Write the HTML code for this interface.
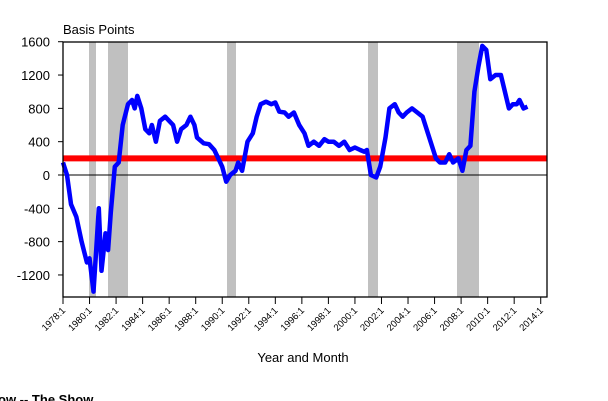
<!DOCTYPE html>
<html><head><meta charset="utf-8"><style>
html,body{margin:0;padding:0;background:#fff;width:608px;height:401px;overflow:hidden}
svg{display:block;font-family:"Liberation Sans",Arial,sans-serif}
</style></head><body>
<svg id="s" width="608" height="401" viewBox="0 0 608 401">
<g fill="#c0c0c0">
<rect x="89" y="42" width="7" height="255"/>
<rect x="108" y="42" width="20" height="255"/>
<rect x="227" y="42" width="9" height="255"/>
<rect x="368" y="42" width="10" height="255"/>
<rect x="457" y="42" width="22" height="255"/>
</g>
<line x1="63" y1="175" x2="547" y2="175" stroke="#000" stroke-width="1"/>
<line x1="63" y1="158.4" x2="547" y2="158.4" stroke="#ff0000" stroke-width="6"/>
<polyline id="p" fill="none" stroke="#0000ff" stroke-width="4.5" stroke-linejoin="round"/>
<rect x="63" y="42" width="484" height="255" fill="none" stroke="#000" stroke-width="1.3"/>
<g id="yt" font-size="13" text-anchor="end" fill="#000"></g>
<g id="xt"></g>
<text x="63" y="34" font-size="13">Basis Points</text>
<text x="303" y="362" font-size="13" text-anchor="middle">Year and Month</text>
<text x="-2" y="404" font-size="13" font-weight="bold">ow -- The Show</text>
</svg>
<script>
var X=function(y){return 63+(y-1978)*13.27},Y=function(v){return 175-v*0.0833};
var d=[1978,150,1978.3,0,1978.6,-350,1979,-500,1979.4,-800,1979.8,-1050,1980,-1000,1980.3,-1400,1980.5,-900,1980.7,-400,1980.9,-1150,1981.2,-700,1981.4,-900,1981.6,-450,1981.9,100,1982.2,150,1982.5,600,1982.9,850,1983.2,900,1983.4,800,1983.6,950,1983.9,800,1984.2,550,1984.5,500,1984.7,600,1985,400,1985.3,650,1985.7,700,1986,650,1986.3,600,1986.6,400,1986.9,550,1987.3,600,1987.6,700,1987.9,600,1988.1,450,1988.6,380,1989,370,1989.4,300,1989.7,200,1990,100,1990.3,-80,1990.6,0,1991,50,1991.2,150,1991.5,50,1991.9,400,1992.3,500,1992.6,700,1992.9,850,1993.3,880,1993.7,850,1994,870,1994.3,760,1994.7,750,1995,700,1995.4,750,1995.8,600,1996.2,500,1996.5,350,1996.9,400,1997.3,350,1997.7,430,1998,400,1998.4,400,1998.8,350,1999.2,400,1999.6,300,2000,330,2000.4,300,2000.7,280,2000.9,300,2001.2,0,2001.6,-30,2001.9,100,2002.3,450,2002.6,800,2003,850,2003.3,750,2003.6,700,2003.9,750,2004.3,800,2004.7,750,2005.1,700,2005.5,500,2005.8,350,2006.1,200,2006.4,150,2006.8,150,2007.1,250,2007.4,150,2007.8,200,2008.1,50,2008.4,300,2008.7,350,2009,1000,2009.3,1300,2009.6,1550,2009.9,1500,2010.2,1150,2010.6,1200,2011,1200,2011.3,1000,2011.6,800,2011.9,850,2012.2,850,2012.4,900,2012.7,800,2013,820];
var pts=[];for(var i=0;i<d.length;i+=2)pts.push(X(d[i]).toFixed(1)+","+Math.min(297,Y(d[i+1])).toFixed(1));
document.getElementById("p").setAttribute("points",pts.join(" "));
var ns="http://www.w3.org/2000/svg",yt=document.getElementById("yt"),xt=document.getElementById("xt");
[1600,1200,800,400,0,-400,-800,-1200].forEach(function(v){var t=document.createElementNS(ns,"text");t.setAttribute("x",50);t.setAttribute("y",Y(v)+5);t.textContent=v;yt.appendChild(t);
var l=document.createElementNS(ns,"line");l.setAttribute("x1",58);l.setAttribute("x2",63);l.setAttribute("y1",Y(v));l.setAttribute("y2",Y(v));l.setAttribute("stroke","#000");xt.appendChild(l);});
for(var y=1978;y<=2014;y+=2){var x=X(y);var l=document.createElementNS(ns,"line");l.setAttribute("x1",x);l.setAttribute("x2",x);l.setAttribute("y1",297);l.setAttribute("y2",304);l.setAttribute("stroke","#000");xt.appendChild(l);
var t=document.createElementNS(ns,"text");t.setAttribute("font-size","9.5");t.setAttribute("text-anchor","end");t.setAttribute("transform","translate("+(x+3)+",311) rotate(-45)");t.textContent=y+":1";xt.appendChild(t);}
var hl=document.createElementNS(ns,"line");hl.setAttribute("x1",63);hl.setAttribute("x2",541);hl.setAttribute("y1",297);hl.setAttribute("y2",297);hl.setAttribute("stroke","#000");xt.appendChild(hl);
</script>
</body></html>
